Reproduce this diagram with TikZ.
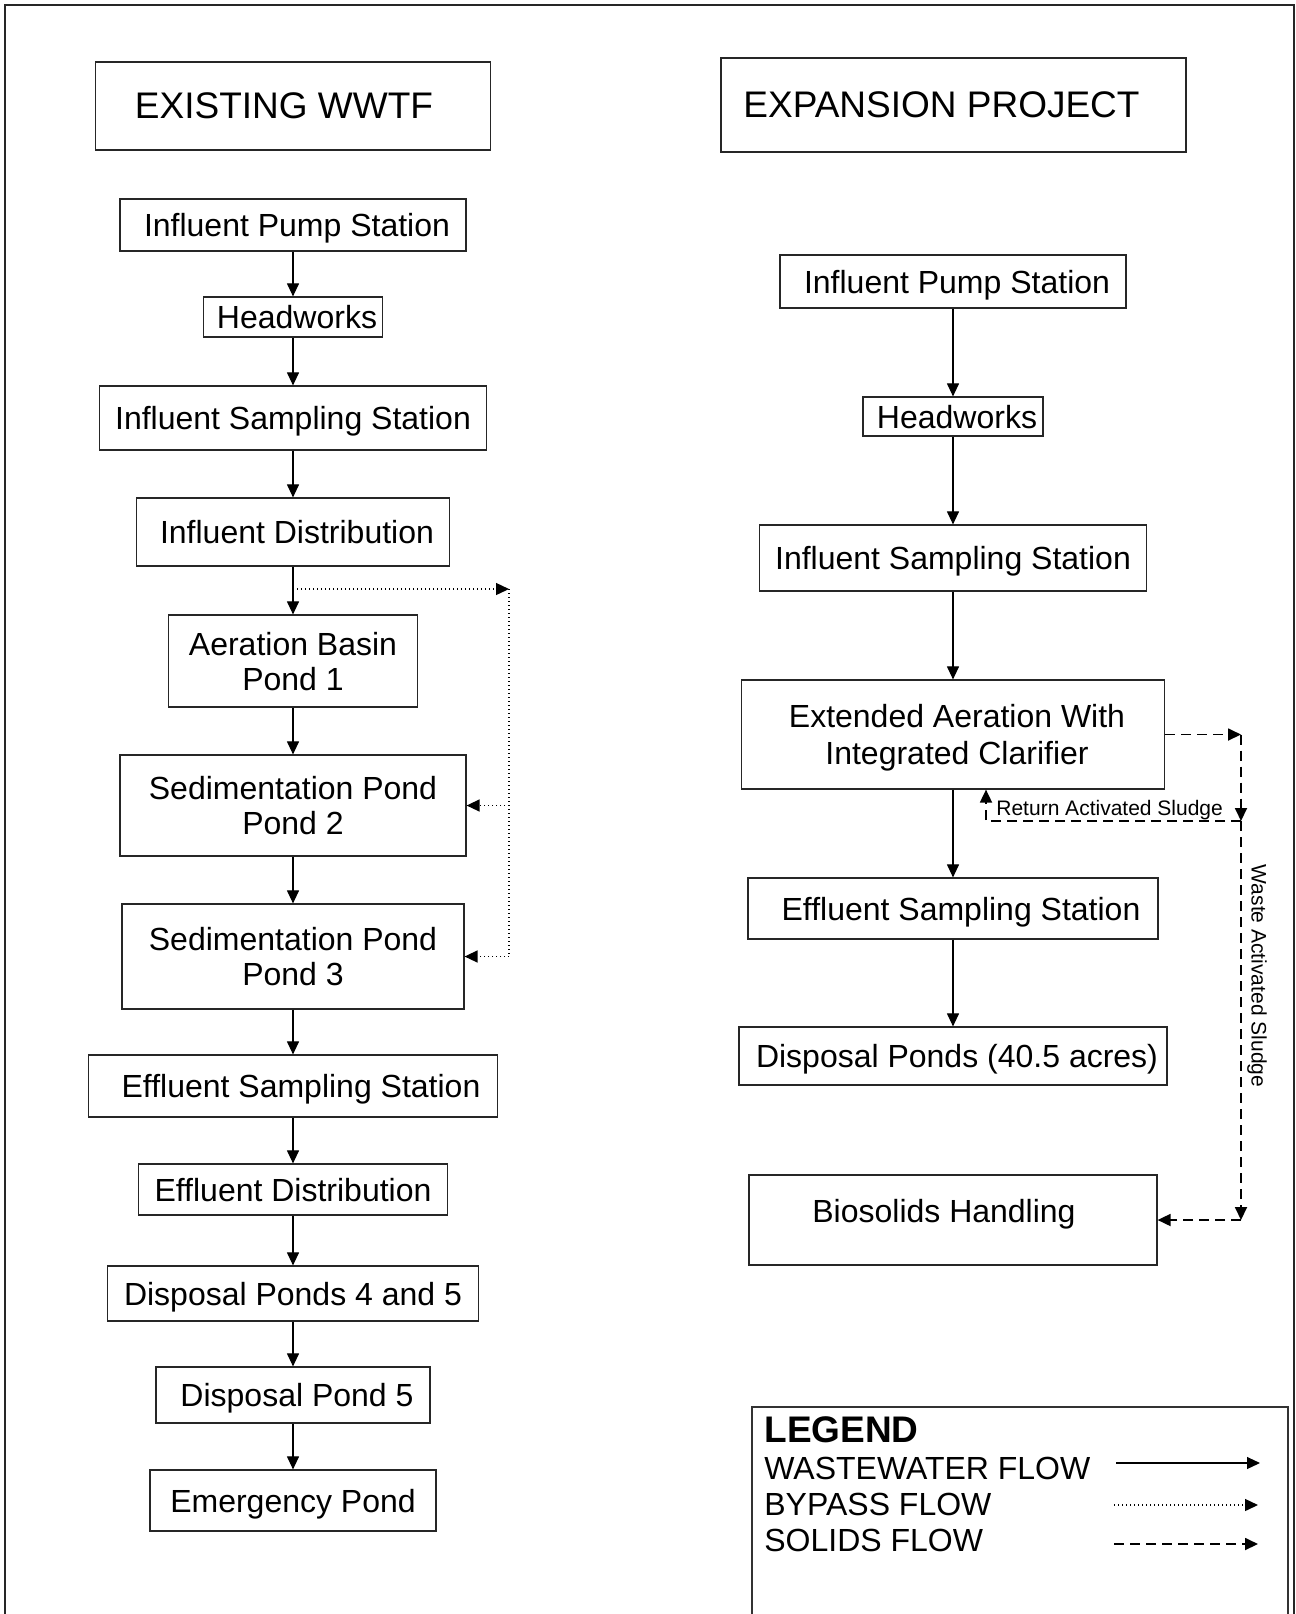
\documentclass[tikz,border=0pt]{standalone}
\usepackage{fontspec}
\setmainfont{Liberation Sans}
\usetikzlibrary{arrows.meta}

\tikzset{
  box/.style={draw=black!85, line width=0.6pt, inner sep=0pt, align=center,
    text depth=0pt, font=\fontsize{16}{17.5}\selectfont},
  titlebox/.style={box, font=\fontsize{18.5}{22}\selectfont},
  flow/.style={line width=0.55pt, -{Triangle[length=6.5pt,width=6pt]}},
  bypass/.style={flow, line width=0.7pt, dash pattern=on 0.7pt off 1.3pt},
  solids/.style={flow, line width=0.9pt, dash pattern=on 5pt off 3pt},
  smalltext/.style={inner sep=0pt, font=\fontsize{10.5}{12}\selectfont},
  legendtext/.style={anchor=west, inner sep=0pt, font=\fontsize{16}{18}\selectfont}
}

\begin{document}
\begin{tikzpicture}[x=0.5pt, y=-0.5pt]
  \useasboundingbox (0,0) rectangle (1296,1614);
  \pgfmathsetmacro{\lx}{293}
  \pgfmathsetmacro{\rx}{953}

  % frame
  \draw[line width=1.4pt, draw=black!85] (5,1630) -- (5,5) -- (1294,5) -- (1294,1630);

  % existing plant
  \node[titlebox, minimum width=197.5pt, minimum height=44pt] (ltitle) at (\lx,106) {EXISTING WWTF\hspace*{9pt}};
  \node[box, minimum width=173pt, minimum height=26pt] (lips) at (\lx,225) {\hspace*{4pt}Influent Pump Station};
  \node[box, minimum width=89.5pt, minimum height=20pt] (lhw) at (\lx,317) {\hspace*{4pt}Headworks};
  \node[box, minimum width=193.5pt, minimum height=32pt] (liss) at (\lx,418) {Influent Sampling Station};
  \node[box, minimum width=156.5pt, minimum height=34pt] (lid) at (\lx,532) {\hspace*{4pt}Influent Distribution};
  \node[box, minimum width=124.5pt, minimum height=46pt] (lab) at (\lx,661) {Aeration Basin\\Pond 1};
  \node[box, minimum width=173pt, minimum height=50.5pt] (lsp2) at (\lx,805.5) {Sedimentation Pond\\Pond 2};
  \node[box, minimum width=171pt, minimum height=52.5pt] (lsp3) at (\lx,956.5) {Sedimentation Pond\\Pond 3};
  \node[box, minimum width=204.5pt, minimum height=31pt] (less) at (\lx,1086) {\hspace*{8pt}Effluent Sampling Station};
  \node[box, minimum width=154.5pt, minimum height=25.5pt] (led) at (\lx,1189.5) {Effluent Distribution};
  \node[box, minimum width=185.5pt, minimum height=27.5pt] (ldp45) at (\lx,1293.5) {Disposal Ponds 4 and 5};
  \node[box, minimum width=137pt, minimum height=28pt] (ldp5) at (\lx,1395) {\hspace*{4pt}Disposal Pond 5};
  \node[box, minimum width=143pt, minimum height=30.5pt] (lep) at (\lx,1500.5) {Emergency Pond};

  \foreach \a/\b in {lips/lhw, lhw/liss, liss/lid, lid/lab, lab/lsp2, lsp2/lsp3,
                     lsp3/less, less/led, led/ldp45, ldp45/ldp5, ldp5/lep}
    \draw[flow] (\a.south) -- (\b.north);

  % bypass
  \coordinate (bp) at (\lx,589);
  \coordinate (bpr) at (509,589);
  \draw[bypass] (bp) -- (bpr);
  \draw[bypass, -] (bpr) -- (bpr |- lsp3.east);
  \draw[bypass] (bpr |- lsp2.east) -- (lsp2.east);
  \draw[bypass] (bpr |- lsp3.east) -- (lsp3.east);

  % expansion project
  \node[titlebox, minimum width=232.5pt, minimum height=47pt] (rtitle) at (953.5,105) {EXPANSION PROJECT\hspace*{12pt}};
  \node[box, minimum width=173pt, minimum height=26.5pt] (rips) at (\rx,281.5) {\hspace*{4pt}Influent Pump Station};
  \node[box, minimum width=90pt, minimum height=19.5pt] (rhw) at (\rx,416.5) {\hspace*{4pt}Headworks};
  \node[box, minimum width=193.5pt, minimum height=33pt] (riss) at (\rx,558) {Influent Sampling Station};
  \node[box, minimum width=211.5pt, minimum height=54.5pt, font=\fontsize{16}{18.5}\selectfont] (rea) at (\rx,734.5) {\hspace*{4pt}Extended Aeration With\\\hspace*{4pt}Integrated Clarifier};
  \node[box, minimum width=205pt, minimum height=30.5pt] (ress) at (\rx,908.5) {\hspace*{8pt}Effluent Sampling Station};
  \node[box, minimum width=214pt, minimum height=29pt] (rdp) at (\rx,1056) {\hspace*{4pt}Disposal Ponds (40.5 acres)};
  \node[box, minimum width=204pt, minimum height=45pt] (rbh) at (\rx,1220) {};
  \node[box, draw=none] (rbhtext) at ([shift={(-9,-9.5)}]rbh.center) {Biosolids Handling};

  \foreach \a/\b in {rips/rhw, rhw/riss, riss/rea, rea/ress, ress/rdp}
    \draw[flow] (\a.south) -- (\b.north);

  % solids
  \coordinate (sx) at (1241,0);
  \coordinate (se) at (rea.east -| sx);
  \coordinate (sr) at (1241,821);
  \coordinate (rt) at (986,821);
  \draw[solids] (rea.east) -- (se);
  \draw[solids] (se) -- (sr);
  \draw[solids] (sr) -- (rt) -- (rt |- rea.south);
  \draw[solids] (sr) -- (sr |- rbh.east);
  \draw[solids] (sr |- rbh.east) -- (rbh.east);
  \node[smalltext, anchor=base west] (ras) at (996,815) {Return Activated Sludge};
  \node[smalltext, rotate=-90] (was) at (1257,976) {Waste Activated Sludge};

  % legend
  \draw[line width=0.8pt, draw=black!80] (752,1630) -- (752,1407) -- (1288,1407) -- (1288,1630);
  \node[legendtext, font=\fontsize{18.5}{22}\selectfont\bfseries] (leg) at (764,1430) {LEGEND};
  \node[legendtext] (legw) at (764,1468) {WASTEWATER FLOW};
  \node[legendtext] (legb) at (764,1504) {BYPASS FLOW};
  \node[legendtext] (legs) at (764,1540) {SOLIDS FLOW};
  \coordinate (lw1) at (1116,1463);
  \coordinate (lw2) at (1260,1463);
  \coordinate (lb1) at (1114,1505);
  \coordinate (lb2) at (1258,1505);
  \coordinate (ls1) at (1114,1544);
  \coordinate (ls2) at (1258,1544);
  \draw[flow] (lw1) -- (lw2);
  \draw[bypass] (lb1) -- (lb2);
  \draw[solids] (ls1) -- (ls2);
\end{tikzpicture}
\end{document}
